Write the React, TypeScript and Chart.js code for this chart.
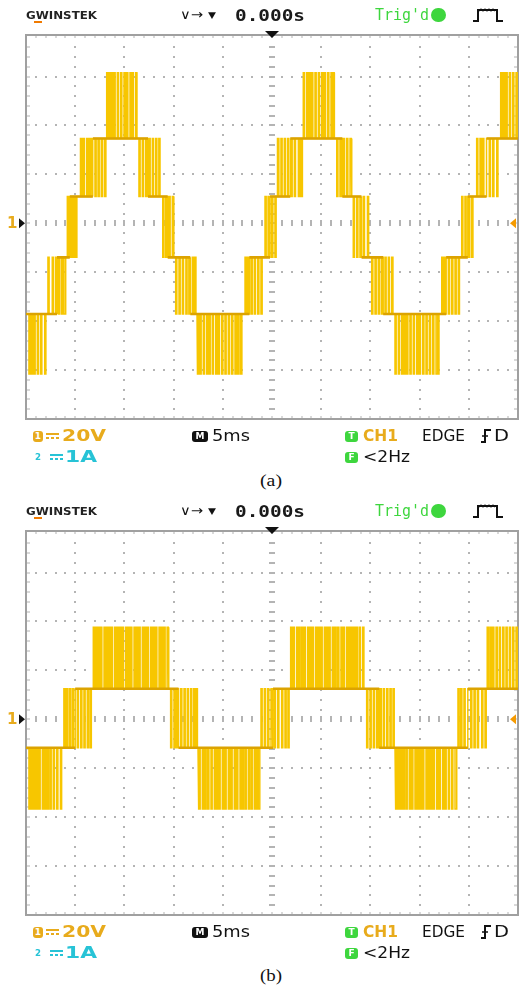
import React, { useEffect, useRef } from "react";
import { Chart, registerables } from "chart.js";

Chart.register(...registerables);

// Horizontal: 5 ms/div, 10 divisions, trigger point in the middle
const T_MIN = -25;
const T_MAX = 25;
const T_DIV = 5;
// Vertical: CH1 at 20 V/div, top edge of the screen sits just under +4 div
const V_MIN = -80;
const V_MAX = 77;
const V_DIV = 20;

// ---- Waveform (a): seven-step output, volts ----
const A_TOP = 61.6;
const A_HI = 34.7;
const A_MID = 11;
const A_LOW = -13.9;
const A_DN = -37.1;
const A_BOT = -61.6;

// each plateau: start time (ms), resting level, level the switching pulses reach, pulse instants (ms)
const aStart = [-25, -22.88, -21.85, -20.94, -20.55, -19.51, -18.2, -16.87, -13.72, -12.6, -11.18, -10.6, -9.96, -8.3, -7.62, -3.05, -2.3, -0.91, -0.2, 0.51, 1.85, 3.1, 6.35, 7.15, 8.13, 9.1, 9.96, 11.3, 12.35, 17.0, 17.7, 19.11, 19.9, 20.63, 21.8, 23.17];
const aBase = [A_DN, A_DN, A_LOW, A_LOW, A_MID, A_MID, A_HI, A_HI, A_HI, A_MID, A_MID, A_LOW, A_LOW, A_DN, A_DN, A_DN, A_LOW, A_LOW, A_MID, A_MID, A_HI, A_HI, A_HI, A_MID, A_MID, A_LOW, A_LOW, A_DN, A_DN, A_DN, A_LOW, A_LOW, A_MID, A_MID, A_HI, A_HI];
const aPeak = [A_BOT, A_LOW, A_DN, A_MID, A_LOW, A_HI, A_MID, A_TOP, A_MID, A_HI, A_LOW, A_MID, A_DN, A_LOW, A_BOT, A_LOW, A_DN, A_MID, A_LOW, A_HI, A_MID, A_TOP, A_MID, A_HI, A_LOW, A_MID, A_DN, A_LOW, A_BOT, A_LOW, A_DN, A_MID, A_LOW, A_HI, A_MID, A_TOP];
const aPulses = [
  [-24.7, -24.46, -24.19, -23.85, -23.51, -23.1],
  [-22.77, -22.33, -21.99],
  [-21.72, -21.41, -21.14],
  [-20.8],
  [-20.46, -20.19, -19.95],
  [-19.44, -19.18, -18.83, -18.6, -18.38],
  [-17.99, -17.68, -17.35, -17.02],
  [-16.8, -16.57, -16.33, -16.06, -15.72, -15.38, -15.04, -14.77, -14.43, -14.2, -13.85],
  [-13.52, -13.18, -12.84],
  [-12.5, -12.16, -11.82, -11.5],
  [-11.1, -10.8],
  [-10.47, -10.13],
  [-9.79, -9.45, -9.11, -8.75, -8.45],
  [-8.1, -7.85],
  [-7.55, -7.32, -6.98, -6.64, -6.4, -6.07, -5.72, -5.46, -5.11, -4.78, -4.44, -4.1, -3.76, -3.49, -3.2],
  [-2.74, -2.47],
  [-2.13, -1.8, -1.45, -1.12],
  [-0.71, -0.4],
  [-0.03, 0.3],
  [0.58, 0.91, 1.25, 1.59],
  [1.93, 2.27, 2.68, 2.95],
  [3.18, 3.52, 3.76, 4.03, 4.37, 4.71, 5.05, 5.32, 5.66, 6.0, 6.2],
  [6.58, 6.91],
  [7.25, 7.59, 7.93],
  [8.26, 8.61, 8.94],
  [9.28, 9.7],
  [10.13, 10.47, 10.8, 11.12],
  [11.48, 11.82, 12.17],
  [12.5, 12.84, 13.18, 13.42, 13.69, 14.02, 14.36, 14.71, 14.97, 15.32, 15.65, 15.99, 16.33, 16.67, 16.85],
  [17.25, 17.52],
  [17.92, 18.26, 18.6, 18.93],
  [19.28, 19.61],
  [19.98, 20.3],
  [20.8, 21.14, 21.41],
  [22.08, 22.43, 22.84],
  [23.24, 23.51, 23.78, 24.12, 24.46, 24.8],
];
const aPulseWidth = 0.12;

// ---- Waveform (b): five-step output, volts ----
const B_TOP = 37.6;
const B_HI = 12.5;
const B_LO = -11.6;
const B_BOT = -36.7;

const bStart = [-25, -21.24, -20.0, -18.29, -10.47, -9.5, -7.52, -1.22, 0.1, 1.83, 9.45, 10.9, 12.5, 18.8, 19.9, 21.85];
const bBase = [B_LO, B_LO, B_HI, B_HI, B_HI, B_LO, B_LO, B_LO, B_HI, B_HI, B_HI, B_LO, B_LO, B_LO, B_HI, B_HI];
const bPeak = [B_BOT, B_HI, B_LO, B_TOP, B_LO, B_HI, B_BOT, B_HI, B_LO, B_TOP, B_LO, B_HI, B_BOT, B_HI, B_LO, B_TOP];
const bPulses = [
  [-24.7, -24.46, -24.19, -23.92, -23.68, -23.34, -23.1, -22.84, -22.56, -22.23, -21.88, -21.5],
  [-21.15, -20.9, -20.6, -20.3],
  [-19.79, -19.44, -19.11, -18.77, -18.48],
  [-18.16, -17.92, -17.68, -17.41, -17.07, -16.8, -16.57, -16.33, -15.99, -15.72, -15.45, -15.21, -14.87, -14.63, -14.36, -14.02, -13.75, -13.52, -13.18, -12.94, -12.67, -12.33, -12.06, -11.82, -11.48, -11.25, -10.98, -10.66],
  [-10.3, -9.96, -9.7],
  [-9.28, -8.94, -8.61, -8.27, -7.95, -7.7],
  [-7.42, -7.08, -6.81, -6.53, -6.2, -5.86, -5.62, -5.39, -5.05, -4.78, -4.44, -4.17, -3.83, -3.59, -3.25, -3.02, -2.74, -2.41, -2.13, -1.8, -1.55, -1.4],
  [-1.12, -0.78, -0.44, -0.1],
  [0.23, 0.58, 0.98, 1.32, 1.62],
  [1.93, 2.16, 2.51, 2.74, 3.02, 3.28, 3.63, 3.86, 4.1, 4.44, 4.71, 4.98, 5.32, 5.56, 5.79, 6.13, 6.4, 6.68, 7.01, 7.25, 7.59, 7.83, 8.1, 8.3, 8.56, 8.87, 9.22],
  [9.62, 9.96, 10.3, 10.64],
  [10.98, 11.31, 11.66, 11.99, 12.3],
  [12.6, 12.84, 13.08, 13.34, 13.62, 13.95, 14.2, 14.53, 14.77, 15.04, 15.31, 15.65, 15.88, 16.13, 16.39, 16.74, 17.0, 17.35, 17.58, 17.92, 18.26, 18.6],
  [18.9, 19.18, 19.51],
  [20.19, 20.53, 20.87, 21.31, 21.65],
  [21.88, 22.16, 22.43, 22.77, 23.1, 23.45, 23.78, 24.12, 24.46, 24.8],
];
const bPulseWidth = 0.12;

const TRACE = "#f7c600";
const TRACE_DARK = "#dca300";
const GOLD = "#e8ab1c";
const CYAN = "#27c3d6";
const GREEN = "#3ed63e";
const GRID = "#b4b4b4";

type Pt = { x: number; y: number | null };

function buildTrace(start: number[], base: number[], peak: number[], pulses: number[][], width: number) {
  const trace: Pt[] = [];
  const level: Pt[] = [];
  for (let i = 0; i < start.length; i++) {
    const s = start[i];
    const e = i + 1 < start.length ? start[i + 1] : T_MAX;
    const b = base[i];
    const p = peak[i];
    trace.push({ x: s, y: b });
    for (const t of pulses[i]) {
      trace.push({ x: t, y: b }, { x: t, y: p }, { x: t + width, y: p }, { x: t + width, y: b });
    }
    trace.push({ x: e, y: b });
    level.push({ x: s, y: b }, { x: e, y: b }, { x: e, y: null });
  }
  return { trace, level };
}

// Dotted graticule, centre cross ticks and frame
const graticule = {
  id: "graticule",
  beforeDatasetsDraw(chart: any) {
    const { ctx, chartArea: a, scales } = chart;
    const x = scales.x;
    const y = scales.y;
    ctx.save();
    ctx.fillStyle = GRID;
    const dot = (px: number, py: number) => ctx.fillRect(Math.round(px) - 1, Math.round(py) - 1, 2, 2);
    const nT = Math.round((T_MAX - T_MIN) / (T_DIV / 5));
    // horizontal dotted lines
    for (let k = -3; k <= 3; k++) {
      const py = y.getPixelForValue(k * V_DIV);
      for (let j = 1; j < nT; j++) dot(x.getPixelForValue(T_MIN + (j * T_DIV) / 5), py);
    }
    // vertical dotted lines
    for (let k = -4; k <= 4; k++) {
      const px = x.getPixelForValue(k * T_DIV);
      for (let j = -19; j <= 19; j++) {
        const v = (j * V_DIV) / 5;
        if (v < V_MAX - 1) dot(px, y.getPixelForValue(v));
      }
    }
    // centre cross minor ticks
    const cx = x.getPixelForValue(0);
    const cy = y.getPixelForValue(0);
    for (let j = 1; j < nT; j++) {
      const px = Math.round(x.getPixelForValue(T_MIN + (j * T_DIV) / 5));
      ctx.fillRect(px - 1, Math.round(cy) - 3, 2, 6);
    }
    for (let j = -19; j <= 19; j++) {
      const v = (j * V_DIV) / 5;
      if (v >= V_MAX - 1) continue;
      const py = Math.round(y.getPixelForValue(v));
      ctx.fillRect(Math.round(cx) - 3, py - 1, 6, 2);
    }
    // frame ticks
    for (let j = 1; j < nT; j++) {
      const px = Math.round(x.getPixelForValue(T_MIN + (j * T_DIV) / 5));
      ctx.fillRect(px - 0.5, a.top, 1, 3);
      ctx.fillRect(px - 0.5, a.bottom - 3, 1, 3);
    }
    for (let j = -19; j <= 19; j++) {
      const v = (j * V_DIV) / 5;
      if (v >= V_MAX - 1) continue;
      const py = Math.round(y.getPixelForValue(v));
      ctx.fillRect(a.left, py - 0.5, 4, 1);
      ctx.fillRect(a.right - 4, py - 0.5, 4, 1);
    }
    ctx.strokeStyle = "#a0a0a0";
    ctx.lineWidth = 2;
    ctx.strokeRect(a.left, a.top, a.right - a.left, a.bottom - a.top);
    ctx.restore();
  },
};

// Channel ground marker, trigger level marker and trigger position marker
const markers = {
  id: "markers",
  afterDraw(chart: any) {
    const { ctx, chartArea: a, scales } = chart;
    const cy = scales.y.getPixelForValue(0);
    const cx = scales.x.getPixelForValue(0);
    ctx.save();
    ctx.fillStyle = GOLD;
    ctx.font = 'bold 15px "DejaVu Sans"';
    ctx.textBaseline = "middle";
    ctx.textAlign = "left";
    ctx.fillText("1", 7, cy + 1);
    ctx.fillStyle = "#111";
    ctx.beginPath();
    ctx.moveTo(19, cy - 5);
    ctx.lineTo(25, cy);
    ctx.lineTo(19, cy + 5);
    ctx.closePath();
    ctx.fill();
    ctx.fillStyle = "#f59a00";
    ctx.beginPath();
    ctx.moveTo(a.right - 2, cy - 5);
    ctx.lineTo(a.right - 8, cy);
    ctx.lineTo(a.right - 2, cy + 5);
    ctx.closePath();
    ctx.fill();
    ctx.fillStyle = "#111";
    ctx.beginPath();
    ctx.moveTo(cx - 7, a.top - 4);
    ctx.lineTo(cx + 7, a.top - 4);
    ctx.lineTo(cx, a.top + 3);
    ctx.closePath();
    ctx.fill();
    ctx.restore();
  },
};

function ScopeCanvas(props: { top: number; start: number[]; base: number[]; peak: number[]; pulses: number[][]; width: number }) {
  const ref = useRef<HTMLCanvasElement>(null);
  useEffect(() => {
    const { trace, level } = buildTrace(props.start, props.base, props.peak, props.pulses, props.width);
    const chart = new Chart(ref.current as HTMLCanvasElement, {
      type: "line",
      data: {
        datasets: [
          { data: level as any, borderColor: TRACE_DARK, borderWidth: 2.6, pointRadius: 0, spanGaps: false, order: 0 },
          { data: trace as any, borderColor: TRACE, borderWidth: 1.5, pointRadius: 0, order: 1 },
        ],
      },
      options: {
        animation: false,
        responsive: false,
        events: [],
        layout: { padding: { left: 26, right: 9, top: 35, bottom: 11 } },
        scales: {
          x: { type: "linear", min: T_MIN, max: T_MAX, display: false },
          y: { type: "linear", min: V_MIN, max: V_MAX, display: false },
        },
        plugins: { legend: { display: false }, tooltip: { enabled: false } },
      },
      plugins: [graticule, markers],
    });
    return () => chart.destroy();
  }, []);
  return (
    <canvas
      ref={ref}
      width={527}
      height={430}
      style={{ position: "absolute", left: 0, top: props.top, width: 527, height: 430 }}
    />
  );
}

const measureCtx = typeof document !== "undefined" ? document.createElement("canvas").getContext("2d") : null;

function Txt(props: { x0: number; x1: number; yc: number; size: number; color: string; text: string; family?: string; weight?: string }) {
  const family = props.family || '"DejaVu Sans"';
  const weight = props.weight || "normal";
  const font = `${weight} ${props.size}px ${family}`;
  let scale = 1;
  if (measureCtx) {
    measureCtx.font = font;
    const w = measureCtx.measureText(props.text).width;
    if (w > 0) scale = (props.x1 - props.x0) / w;
  }
  return (
    <span
      style={{
        position: "absolute",
        left: props.x0,
        top: props.yc - props.size * 0.6,
        font,
        lineHeight: `${props.size * 1.2}px`,
        color: props.color,
        whiteSpace: "pre",
        transform: `scaleX(${scale})`,
        transformOrigin: "0 0",
      }}
    >
      {props.text}
    </span>
  );
}

function Badge(props: { x: number; yc: number; w: number; h: number; bg: string; text: string }) {
  return (
    <span
      style={{
        position: "absolute",
        left: props.x,
        top: props.yc - props.h / 2,
        width: props.w,
        height: props.h,
        borderRadius: 3,
        background: props.bg,
        color: "#fff",
        font: 'bold 9px "DejaVu Sans"',
        lineHeight: `${props.h}px`,
        textAlign: "center",
      }}
    >
      {props.text}
    </span>
  );
}

function DcMark(props: { x: number; yc: number; color: string }) {
  return (
    <svg style={{ position: "absolute", left: props.x, top: props.yc - 4 }} width={13} height={8}>
      <rect x={0} y={1} width={13} height={2} fill={props.color} />
      <rect x={0} y={5} width={3} height={2} fill={props.color} />
      <rect x={5} y={5} width={3} height={2} fill={props.color} />
      <rect x={10} y={5} width={3} height={2} fill={props.color} />
    </svg>
  );
}

const LABEL_FONT = '"DejaVu Sans"';

function ScopePanel(props: { top: number; caption: string; captionY: number; start: number[]; base: number[]; peak: number[]; pulses: number[][]; width: number }) {
  const t = props.top;
  return (
    <>
      <ScopeCanvas top={t} start={props.start} base={props.base} peak={props.peak} pulses={props.pulses} width={props.width} />
      {/* status bar */}
      <Txt x0={26} x1={97} yc={t + 16} size={10} weight="bold" color="#222" text="GWINSTEK" />
      <span style={{ position: "absolute", left: 34, top: t + 21, width: 8, height: 2, background: "#f07a00" }} />
      <Txt x0={180} x1={203} yc={t + 15} size={13} color="#111" text="∨→" />
      <Txt x0={208} x1={216} yc={t + 15} size={9} color="#111" text="▼" />
      <Txt x0={235} x1={305} yc={t + 16} size={15} weight="bold" family='"DejaVu Sans Mono"' color="#1a1a1a" text="0.000s" />
      <Txt x0={375} x1={429} yc={t + 15} size={16} family='"DejaVu Sans Mono"' color={GREEN} text="Trig'd" />
      <span style={{ position: "absolute", left: 431, top: t + 8, width: 15, height: 14, borderRadius: 7, background: GREEN }} />
      <svg style={{ position: "absolute", left: 472, top: t + 7 }} width={32} height={16}>
        <path d="M1 14 H6 V3 H25 V14 H31" stroke="#111" strokeWidth={2} fill="none" />
        <path d="M7 4 L9 2 L11 4 L13 2 L15 4 L17 2 L19 4 L21 2 L23 4" stroke="#111" strokeWidth={1.2} fill="none" />
      </svg>
      {/* footer: channel, timebase, trigger */}
      <Badge x={33} yc={t + 436} w={10} h={11} bg={GOLD} text="1" />
      <DcMark x={46} yc={t + 436} color={GOLD} />
      <Txt x0={62} x1={106} yc={t + 436} size={15} weight="bold" family={LABEL_FONT} color={GOLD} text="20V" />
      <Txt x0={35} x1={41} yc={t + 457} size={9} weight="bold" color={CYAN} text="2" />
      <DcMark x={50} yc={t + 457} color={CYAN} />
      <Txt x0={65} x1={97} yc={t + 457} size={15} weight="bold" family={LABEL_FONT} color={CYAN} text="1A" />
      <Badge x={192} yc={t + 436} w={16} h={11} bg="#111" text="M" />
      <Txt x0={212} x1={250} yc={t + 436} size={15} family={LABEL_FONT} color="#111" text="5ms" />
      <Badge x={345} yc={t + 436} w={13} h={11} bg={GREEN} text="T" />
      <Txt x0={363} x1={398} yc={t + 436} size={15} weight="bold" family={LABEL_FONT} color={GOLD} text="CH1" />
      <Txt x0={422} x1={465} yc={t + 436} size={15} family={LABEL_FONT} color="#111" text="EDGE" />
      <svg style={{ position: "absolute", left: 480, top: t + 429 }} width={12} height={14}>
        <path d="M1 13 H5 V1 H11" stroke="#111" strokeWidth={2} fill="none" />
        <path d="M2 7 H8" stroke="#111" strokeWidth={1.5} />
      </svg>
      <Txt x0={494} x1={509} yc={t + 436} size={15} family={LABEL_FONT} color="#111" text="D" />
      <Badge x={345} yc={t + 457} w={13} h={11} bg={GREEN} text="F" />
      <Txt x0={363} x1={410} yc={t + 457} size={15} family={LABEL_FONT} color="#111" text="<2Hz" />
      <Txt x0={260} x1={282} yc={props.captionY} size={17} family='"Liberation Serif"' color="#111" text={props.caption} />
    </>
  );
}

export default function App() {
  return (
    <div style={{ position: "absolute", left: 0, top: 0, width: 527, height: 987, background: "#fff", overflow: "hidden" }}>
      <ScopePanel top={0} caption="(a)" captionY={481} start={aStart} base={aBase} peak={aPeak} pulses={aPulses} width={aPulseWidth} />
      <ScopePanel top={496} caption="(b)" captionY={976} start={bStart} base={bBase} peak={bPeak} pulses={bPulses} width={bPulseWidth} />
    </div>
  );
}
